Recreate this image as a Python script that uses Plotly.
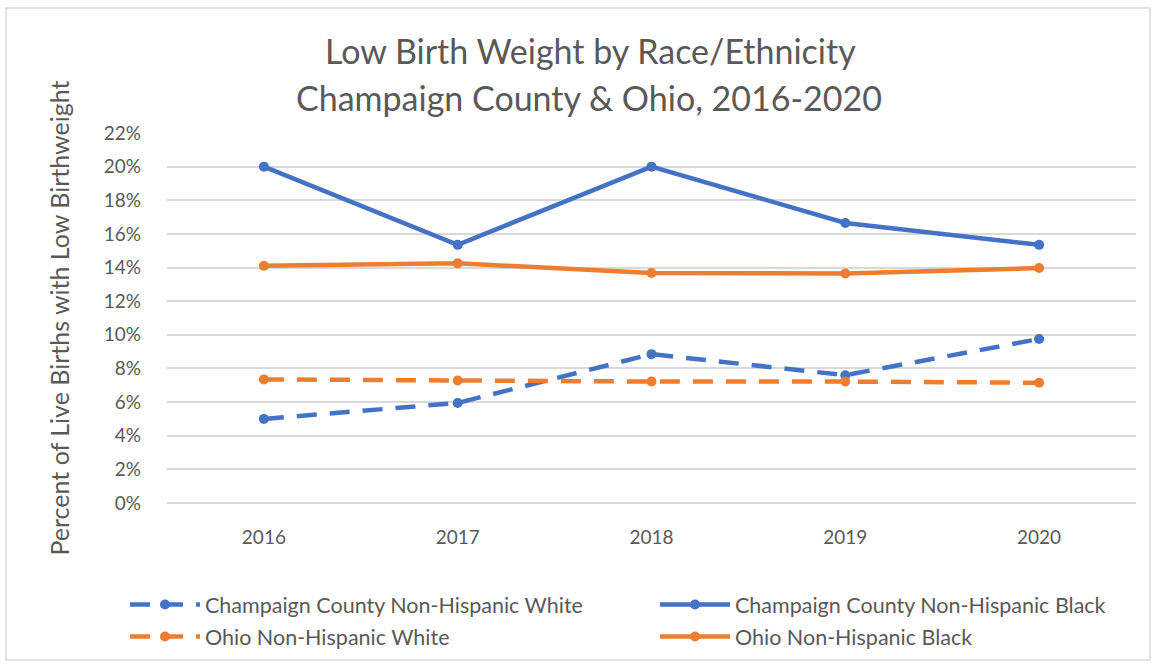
import plotly.graph_objects as go

years = ["2016", "2017", "2018", "2019", "2020"]
cc_white = [5.0, 5.95, 8.85, 7.6, 9.75]
cc_black = [20.0, 15.35, 20.0, 16.65, 15.35]
oh_white = [7.35, 7.28, 7.22, 7.22, 7.15]
oh_black = [14.1, 14.25, 13.68, 13.65, 13.97]

title_lines = ["Low Birth Weight by Race/Ethnicity", "Champaign County & Ohio, 2016-2020"]

BLUE = "#4472C4"
ORANGE = "#ED7D31"
FONT = "Lato"
GREY = "#595959"

W, H = 1156, 666
L, R, T, B = 167, 20, 133, 163
PW, PH = W - L - R, H - T - B


def py(y):  # pixel y -> paper y
    return (H - B - y) / PH


def px(x):
    return (x - L) / PW


series = [
    ("Champaign County Non-Hispanic White", cc_white, BLUE, "20px,13px", "legend"),
    ("Champaign County Non-Hispanic Black", cc_black, BLUE, "solid", "legend2"),
    ("Ohio Non-Hispanic White", oh_white, ORANGE, "20px,13px", "legend"),
    ("Ohio Non-Hispanic Black", oh_black, ORANGE, "solid", "legend2"),
]

fig = go.Figure()
for name, vals, color, dash, leg in series:
    fig.add_trace(go.Scatter(
        x=years, y=vals, name=name, mode="lines+markers",
        legend=leg, legendgroup=name,
        line=dict(color=color, width=4.5, dash=dash),
        marker=dict(color=color, size=10, symbol="circle"),
    ))

legend_common = dict(
    orientation="v", xanchor="left", xref="paper",
    y=py(584), yanchor="top", yref="paper",
    itemwidth=70, tracegroupgap=1,
    font=dict(size=21.5, color=GREY), bgcolor="rgba(0,0,0,0)",
)

fig.update_layout(
    width=W, height=H,
    paper_bgcolor="white", plot_bgcolor="white",
    margin=dict(l=L, r=R, t=T, b=B, autoexpand=False),
    font=dict(family=FONT, color=GREY, size=17),
    xaxis=dict(
        type="category", range=[-0.5, 4.5],
        showgrid=False, showline=False, zeroline=False,
        ticks="", ticklabelstandoff=21, tickfont=dict(size=19, color=GREY),
        automargin=False,
    ),
    yaxis=dict(
        range=[0, 22], dtick=2, ticksuffix="%",
        showgrid=True, gridcolor="#D9D9D9", gridwidth=1.5,
        zeroline=True, zerolinecolor="#D9D9D9", zerolinewidth=1.5,
        showline=False, ticks="", ticklabelstandoff=25,
        tickfont=dict(size=19, color=GREY), automargin=False,
        title=dict(text="Percent of Live Births with Low Birthweight",
                   font=dict(size=25, color=GREY), standoff=26),
    ),
    legend=dict(x=px(125), **legend_common),
    legend2=dict(x=px(655), **legend_common),
)

fig.add_annotation(text=title_lines[0], xref="paper", yref="paper",
                   x=px(590), y=py(50), xanchor="center", yanchor="middle",
                   showarrow=False, font=dict(family=FONT, size=34, color=GREY))
fig.add_annotation(text=title_lines[1], xref="paper", yref="paper",
                   x=px(589), y=py(97), xanchor="center", yanchor="middle",
                   showarrow=False, font=dict(family=FONT, size=34, color=GREY))

fig.add_shape(type="rect", xref="paper", yref="paper",
              x0=px(6), x1=px(1150), y0=py(660), y1=py(8),
              line=dict(color="#D9D9D9", width=1.5), layer="below")

fig.write_html("out.html", config={"displayModeBar": False},
               post_script="document.body.style.margin='0';document.body.style.padding='0';")
